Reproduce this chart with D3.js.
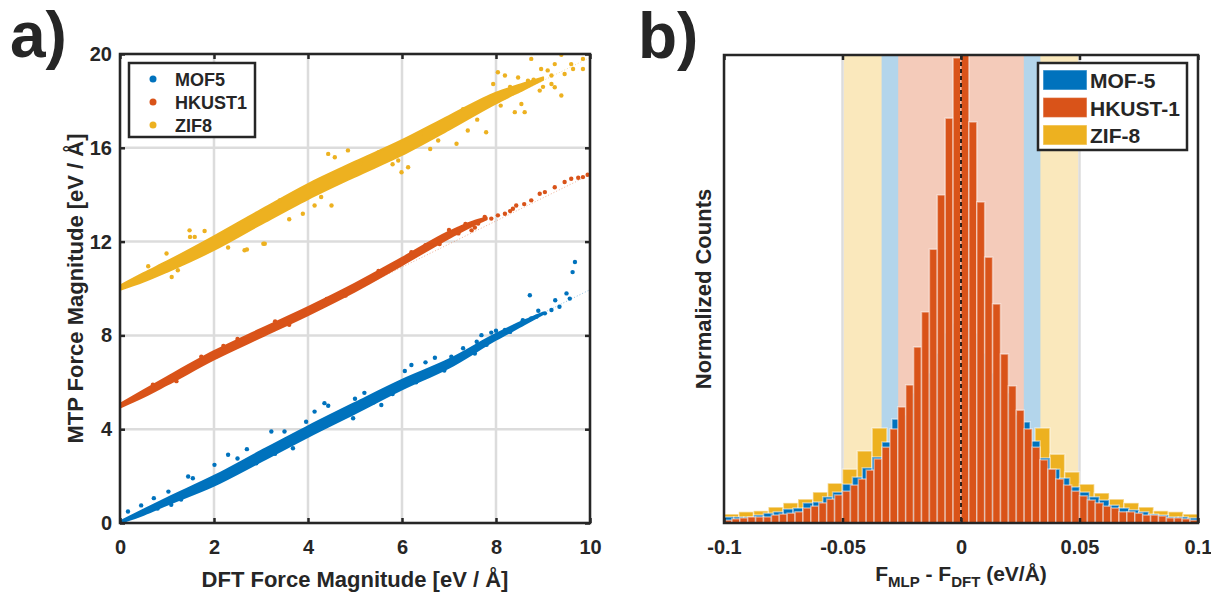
<!DOCTYPE html>
<html>
<head>
<meta charset="utf-8">
<script src="https://cdn.jsdelivr.net/npm/d3@7"></script>
<style>
  body { margin: 0; background: #fff; }
  text { font-family: "Liberation Sans", Arial, sans-serif; font-weight: bold; fill: #262626; }
</style>
</head>
<body>
<div id="chart"></div>
<script>

// ---------- panel a) data ----------
const scatterNames = ["MOF5", "HKUST1", "ZIF8"]
const xTicksA = [0, 2, 4, 6, 8, 10]
const yTicksA = [0, 4, 8, 12, 16, 20]

// dense core of each cloud: [DFT, lower MTP, upper MTP]
const mofBand = [[0,0,0.06],[0.5,0.35,0.57],[1,0.78,1.06],[2,1.6,2.0],[3,2.63,3.07],[4,3.68,4.12],[5,4.68,5.12],[6,5.7,6.1],[7,6.63,6.97],[8,7.82,8.06],[8.6,8.47,8.63],[9,8.91,8.97]]
const hkustBand = [[0,4.93,5.07],[0.5,5.38,5.65],[1,5.9,6.22],[2,6.98,7.32],[3,7.93,8.27],[4,8.87,9.2],[5,9.88,10.2],[6,11.0,11.3],[7,12.15,12.42],[7.5,12.68,12.85],[7.8,12.95,13.02]]
const zifBand = [[0,9.95,10.12],[0.5,10.3,10.65],[1,10.72,11.15],[2,11.65,12.22],[3,12.75,13.35],[4,13.82,14.45],[5,14.78,15.4],[6,15.7,16.32],[7,16.78,17.35],[8,17.9,18.35],[8.6,18.5,18.75],[9,18.9,19.0]]

// individual scattered points around / beyond the core
const mofPoints = [[0.17,0.49],[0.45,0.75],[0.72,1.06],[1.03,1.34],[1.09,0.78],[1.3,1.0],[1.45,1.98],[1.55,1.91],[2.01,2.48],[2.3,2.91],[2.5,2.75],[2.9,2.55],[3.22,3.9],[3.5,3.9],[3.68,3.19],[3.96,4.32],[4.14,4.75],[4.35,5.11],[4.43,5.0],[4.96,4.47],[5.2,5.55],[5.56,5.03],[5.8,5.5],[6.06,6.48],[6.2,6.74],[6.5,6.85],[6.9,6.5],[7.05,7.09],[7.3,7.45],[7.55,7.23],[7.59,7.73],[7.69,8.01],[7.8,7.6],[8.0,8.2],[8.19,8.23],[8.4,8.37],[8.57,8.65],[8.75,8.72],[8.72,9.71],[8.86,8.8],[9.04,8.94],[9.18,9.08],[9.35,9.22],[9.26,9.5],[9.57,9.57],[9.5,9.79],[9.63,10.7],[9.68,11.13],
                   [0.8,0.62],[1.8,1.52],[2.7,3.15],[3.3,2.95],[4.6,4.42],[5.0,5.3],[5.4,5.15],[6.3,6.0],[6.7,7.05],[7.2,6.95],[7.9,8.12],[8.3,8.15],[8.9,9.05]]
const hkustPoints = [[1.73,7.09],[2.5,7.85],[3.3,8.6],[5.5,10.75],[6.5,11.85],[6.8,11.9],[7.0,12.5],[7.48,12.48],[7.55,12.6],[7.62,12.77],[7.76,13.05],[7.9,12.98],[8.04,13.12],[8.19,13.19],[8.3,13.3],[8.36,13.4],[8.43,13.54],[8.6,13.6],[8.75,13.76],[8.93,14.04],[9.04,14.11],[9.25,14.32],[9.46,14.54],[9.6,14.68],[9.75,14.72],[9.85,14.75],[9.95,14.85],
                     [0.7,5.9],[1.2,6.05],[2.2,7.55],[3.6,8.45],[4.4,9.55],[4.8,9.7],[6.2,11.55],[7.2,12.35],[7.35,12.75]]
const zifPoints = [[0.99,11.49],[1.1,10.49],[1.23,10.78],[1.48,12.48],[1.49,12.2],[1.59,12.2],[2.65,11.63],[2.7,11.66],[3.05,11.91],[3.08,11.91],[3.89,13.19],[4.14,13.54],[4.28,13.9],[4.43,15.74],[4.5,13.54],[4.57,15.6],[4.85,15.89],[5.13,15.32],[5.92,15.46],[5.99,14.96],[6.13,15.17],[6.77,16.31],[7.05,17.3],[7.16,16.17],[7.4,16.74],[7.79,16.66],[7.94,18.72],[8.04,19.22],[8.19,19.08],[8.4,17.52],[8.47,19.0],[8.54,17.87],[8.61,17.52],[8.68,18.86],[8.75,19.79],[8.93,18.44],[8.96,19.36],[9.18,19.08],[9.18,18.72],[9.25,19.57],[9.25,18.58],[9.39,19.97],[9.39,18.23],[9.46,19.15],[9.6,19.57],[9.64,19.36],[9.85,19.79],[9.85,19.36],
                   [0.6,10.95],[1.8,12.45],[2.3,11.75],[3.4,13.75],[3.6,12.95],[5.5,15.8],[5.8,15.3],[6.4,16.6],[6.6,15.95],[7.3,17.65],[7.6,17.2],[8.1,17.8],[8.3,18.6],[8.8,18.9],[9.0,18.6],[9.1,19.3]]

// faint reference line of each series: [start, end]
const fitLines = [[[0,0],[10,9.95]], [[0,5],[10,14.85]], [[0,10],[10,19.85]]]

// ---------- panel b) data ----------
const histNames = ["MOF-5", "HKUST-1", "ZIF-8"]
const xTicksB = [-0.1, -0.05, 0, 0.05, 0.1]
// normalized counts, bins laid out evenly from -0.1 to 0.1
const mofCounts = [0.013,0.013,0.013,0.017,0.021,0.024,0.030,0.032,0.043,0.045,0.056,0.066,0.083,0.098,0.118,0.141,0.173,0.222,0.231,0.278,0.321,0.363,0.406,0.427,
                   0.427,0.406,0.363,0.321,0.278,0.231,0.216,0.175,0.139,0.115,0.096,0.077,0.066,0.056,0.049,0.038,0.032,0.028,0.024,0.019,0.017,0.013,0.013,0.011]
const hkustCounts = [0.006,0.009,0.011,0.013,0.013,0.013,0.017,0.019,0.021,0.024,0.032,0.036,0.043,0.051,0.060,0.068,0.081,0.094,0.113,0.137,0.162,0.201,0.248,0.295,0.376,0.451,0.585,0.701,0.865,0.994,
                     1.000,0.857,0.686,0.568,0.468,0.361,0.293,0.241,0.201,0.162,0.135,0.115,0.094,0.081,0.068,0.058,0.049,0.043,0.036,0.032,0.024,0.024,0.021,0.017,0.017,0.015,0.011,0.011,0.009,0.006]
const zifCounts = [0.019,0.024,0.026,0.034,0.043,0.051,0.066,0.085,0.115,0.154,0.203,0.167,0.214,0.278,0.321,0.342,
                   0.342,0.321,0.278,0.214,0.167,0.203,0.147,0.109,0.083,0.064,0.051,0.043,0.034,0.026,0.024,0.019]
// half widths of the shaded error windows
const windowHalf = [0.0335, 0.0265, 0.0495]

const COLORS = ["#0072BD", "#D95319", "#EDB120"]
const LIGHT = ["#B3D5EB", "#F4CBBA", "#FAE8BC"]
const DARK = "#262626"
const GRID = "#dcdcdc"

const WIDTH = 1211, HEIGHT = 592

let svg = d3.select("#chart").append("svg")
    .attr("width", WIDTH)
    .attr("height", HEIGHT)

// =============== panel a ===============
const A = {LEFT:120, RIGHT:590, TOP:54, BOTTOM:523}
let xA = d3.scaleLinear().domain([0, 10]).range([A.LEFT, A.RIGHT])
let yA = d3.scaleLinear().domain([0, 20]).range([A.BOTTOM, A.TOP])

svg.append("clipPath").attr("id", "clipA")
    .append("rect").attr("x", A.LEFT).attr("y", A.TOP)
    .attr("width", A.RIGHT - A.LEFT).attr("height", A.BOTTOM - A.TOP)

// grid
let gA = svg.append("g")
gA.selectAll(".gx").data(xTicksA).enter().append("line")
    .attr("x1", d => xA(d)).attr("x2", d => xA(d))
    .attr("y1", A.TOP).attr("y2", A.BOTTOM)
    .attr("stroke", GRID).attr("stroke-width", 2.5)
gA.selectAll(".gy").data(yTicksA).enter().append("line")
    .attr("y1", d => yA(d)).attr("y2", d => yA(d))
    .attr("x1", A.LEFT).attr("x2", A.RIGHT)
    .attr("stroke", GRID).attr("stroke-width", 2.5)

let plotA = svg.append("g").attr("clip-path", "url(#clipA)")

let bandArea = d3.area()
    .x(d => xA(d[0]))
    .y0(d => yA(d[1]))
    .y1(d => yA(d[2]))
    .curve(d3.curveMonotoneX)

let lineGen = d3.line().x(d => xA(d[0])).y(d => yA(d[1]))

const bands = [mofBand, hkustBand, zifBand]
const points = [mofPoints, hkustPoints, zifPoints]

bands.forEach((band, i) => {
    // faint dotted reference line
    plotA.append("path")
        .datum(fitLines[i])
        .attr("d", lineGen)
        .attr("fill", "none")
        .attr("stroke", COLORS[i])
        .attr("stroke-opacity", 0.45)
        .attr("stroke-width", 1)
        .attr("stroke-dasharray", "1,2")

    plotA.append("path")
        .datum(band)
        .attr("d", bandArea)
        .attr("fill", COLORS[i])
        .attr("stroke", COLORS[i])
        .attr("stroke-width", 2.2)
        .attr("stroke-linejoin", "round")

    plotA.selectAll(".pt" + i)
        .data(points[i])
        .enter()
        .append("circle")
        .attr("cx", d => xA(d[0]))
        .attr("cy", d => yA(d[1]))
        .attr("r", 2.2)
        .attr("fill", COLORS[i])
})

// axes with inward ticks
function styleAxis(g) {
    g.select(".domain").remove()
    g.selectAll(".tick line").attr("stroke", DARK).attr("stroke-width", 2.5)
    g.selectAll(".tick text").style("font-size", "20px").attr("fill", DARK)
}
svg.append("g").attr("transform", "translate(0," + A.BOTTOM + ")")
    .call(d3.axisBottom(xA).tickValues(xTicksA).tickSize(-5).tickPadding(17).tickFormat(d3.format("d")))
    .call(styleAxis)
svg.append("g").attr("transform", "translate(0," + A.TOP + ")")
    .call(d3.axisTop(xA).tickValues(xTicksA).tickSize(-5).tickFormat(""))
    .call(styleAxis)
svg.append("g").attr("transform", "translate(" + A.LEFT + ",0)")
    .call(d3.axisLeft(yA).tickValues(yTicksA).tickSize(-5).tickPadding(8).tickFormat(d3.format("d")))
    .call(styleAxis)
svg.append("g").attr("transform", "translate(" + A.RIGHT + ",0)")
    .call(d3.axisRight(yA).tickValues(yTicksA).tickSize(-5).tickFormat(""))
    .call(styleAxis)

svg.append("rect")
    .attr("x", A.LEFT).attr("y", A.TOP)
    .attr("width", A.RIGHT - A.LEFT).attr("height", A.BOTTOM - A.TOP)
    .attr("fill", "none").attr("stroke", DARK).attr("stroke-width", 2.5)

// legend a
let legA = svg.append("g")
legA.append("rect")
    .attr("x", 129).attr("y", 63).attr("width", 126).attr("height", 74)
    .attr("fill", "#fff").attr("stroke", DARK).attr("stroke-width", 2.5)
scatterNames.forEach((name, i) => {
    legA.append("circle").attr("cx", 153).attr("cy", 79 + i * 23).attr("r", 3.5).attr("fill", COLORS[i])
    legA.append("text").attr("x", 175).attr("y", 85.5 + i * 23)
        .style("font-size", "18px").attr("fill", "#000").text(name)
})

// titles a
svg.append("text")
    .attr("x", (A.LEFT + A.RIGHT) / 2).attr("y", 587)
    .attr("text-anchor", "middle").style("font-size", "22px")
    .text("DFT Force Magnitude [eV / Å]")
svg.append("text")
    .attr("transform", "translate(83," + (A.TOP + A.BOTTOM) / 2 + ") rotate(-90)")
    .attr("text-anchor", "middle").style("font-size", "22px")
    .text("MTP Force Magnitude [eV / Å]")
svg.append("text")
    .attr("x", 10).attr("y", 57)
    .style("font-size", "64px").attr("fill", "#000")
    .text("a)")

// =============== panel b ===============
const B = {LEFT:724, RIGHT:1198, TOP:55, BOTTOM:523}
let xB = d3.scaleLinear().domain([-0.1, 0.1]).range([B.LEFT, B.RIGHT])
let yB = d3.scaleLinear().domain([0, 1]).range([B.BOTTOM, B.TOP])

svg.append("clipPath").attr("id", "clipB")
    .append("rect").attr("x", B.LEFT).attr("y", B.TOP)
    .attr("width", B.RIGHT - B.LEFT).attr("height", B.BOTTOM - B.TOP)

let plotB = svg.append("g").attr("clip-path", "url(#clipB)")

// shaded windows: widest first so narrower ones sit on top
;[2, 0, 1].forEach(i => {
    plotB.append("rect")
        .attr("x", xB(-windowHalf[i]))
        .attr("width", xB(windowHalf[i]) - xB(-windowHalf[i]))
        .attr("y", B.TOP).attr("height", B.BOTTOM - B.TOP)
        .attr("fill", LIGHT[i])
})

// vertical grid
plotB.selectAll(".gxb").data(xTicksB).enter().append("line")
    .attr("x1", d => xB(d)).attr("x2", d => xB(d))
    .attr("y1", B.TOP).attr("y2", B.BOTTOM)
    .attr("stroke", GRID).attr("stroke-width", 2.5)

// histograms: ZIF-8 at back, HKUST-1 in front
const counts = [mofCounts, hkustCounts, zifCounts]
;[2, 0, 1].forEach(i => {
    let vals = counts[i]
    let w = 0.2 / vals.length
    plotB.selectAll(".bar" + i)
        .data(vals)
        .enter()
        .append("rect")
        .attr("x", (d, k) => xB(-0.1 + k * w))
        .attr("width", (d, k) => xB(-0.1 + (k + 1) * w) - xB(-0.1 + k * w))
        .attr("y", d => yB(d))
        .attr("height", d => B.BOTTOM - yB(d))
        .attr("fill", COLORS[i])
        .attr("stroke", "#fff")
        .attr("stroke-opacity", 0.45)
        .attr("stroke-width", 1.6)
})

// zero line
plotB.append("line")
    .attr("x1", xB(0)).attr("x2", xB(0))
    .attr("y1", B.TOP).attr("y2", B.BOTTOM)
    .attr("stroke", "#000").attr("stroke-width", 1.6)
    .attr("stroke-dasharray", "4,3")

let fmtB = d => d === 0 ? "0" : String(+d.toFixed(2))
svg.append("g").attr("transform", "translate(0," + B.BOTTOM + ")")
    .call(d3.axisBottom(xB).tickValues(xTicksB).tickSize(-5).tickPadding(17).tickFormat(fmtB))
    .call(styleAxis)
svg.append("g").attr("transform", "translate(0," + B.TOP + ")")
    .call(d3.axisTop(xB).tickValues(xTicksB).tickSize(-5).tickFormat(""))
    .call(styleAxis)

svg.append("rect")
    .attr("x", B.LEFT).attr("y", B.TOP)
    .attr("width", B.RIGHT - B.LEFT).attr("height", B.BOTTOM - B.TOP)
    .attr("fill", "none").attr("stroke", DARK).attr("stroke-width", 2.5)

// legend b
let legB = svg.append("g")
legB.append("rect")
    .attr("x", 1038).attr("y", 63).attr("width", 149).attr("height", 87)
    .attr("fill", "#fff").attr("stroke", DARK).attr("stroke-width", 2.5)
histNames.forEach((name, i) => {
    legB.append("rect")
        .attr("x", 1043).attr("y", 70 + i * 27.5)
        .attr("width", 44).attr("height", 20)
        .attr("fill", COLORS[i])
        .attr("stroke", "#fff").attr("stroke-opacity", 0.45).attr("stroke-width", 1.2)
    legB.append("text").attr("x", 1090).attr("y", 88 + i * 27.5)
        .style("font-size", "21px").attr("fill", "#000").text(name)
})

// titles b
let xtB = svg.append("text")
    .attr("x", (B.LEFT + B.RIGHT) / 2).attr("y", 581)
    .attr("text-anchor", "middle").style("font-size", "21px")
xtB.append("tspan").text("F")
xtB.append("tspan").attr("dy", 6).style("font-size", "15px").text("MLP")
xtB.append("tspan").attr("dy", -6).text(" - F")
xtB.append("tspan").attr("dy", 6).style("font-size", "15px").text("DFT")
xtB.append("tspan").attr("dy", -6).text(" (eV/Å)")

svg.append("text")
    .attr("transform", "translate(711," + (B.TOP + B.BOTTOM) / 2 + ") rotate(-90)")
    .attr("text-anchor", "middle").style("font-size", "22px")
    .text("Normalized Counts")
svg.append("text")
    .attr("x", 638).attr("y", 58)
    .style("font-size", "64px").attr("fill", "#000")
    .text("b)")

</script>
</body>
</html>
